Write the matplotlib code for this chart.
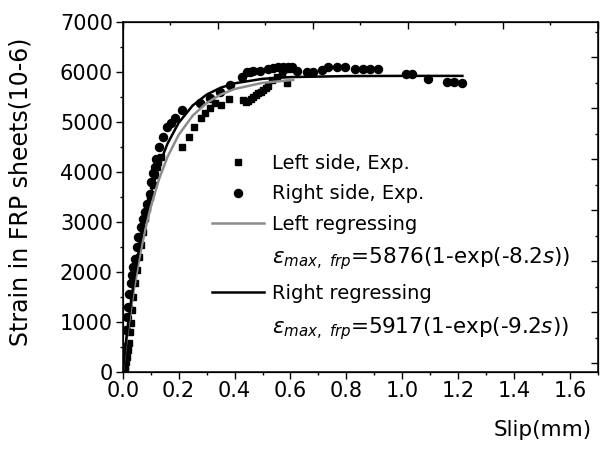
"""Strain in FRP sheets vs slip: left/right side measurements with exponential fits."""

import matplotlib

matplotlib.use("Agg")
import matplotlib.pyplot as plt
from matplotlib.lines import Line2D
from matplotlib.ticker import MultipleLocator

# left side, experiment (squares)
left_slip = [0.008, 0.012, 0.016, 0.020, 0.023, 0.026, 0.029, 0.035, 0.038, 0.044,
             0.050, 0.058, 0.065, 0.073, 0.080, 0.088, 0.098, 0.110, 0.116, 0.121,
             0.128, 0.136, 0.211, 0.238, 0.255, 0.279, 0.294, 0.312, 0.330, 0.350,
             0.381, 0.431, 0.440, 0.449, 0.458, 0.467, 0.476, 0.485, 0.494, 0.503,
             0.512, 0.521, 0.533, 0.551, 0.569, 0.575, 0.587, 0.595, 0.604]
left_strain = [75, 200, 300, 430, 570, 800, 970, 1230, 1500, 1770,
               2030, 2300, 2530, 2800, 3070, 3270, 3500, 3730, 3930, 4100,
               4200, 4300, 4500, 4700, 4890, 5070, 5170, 5270, 5370, 5330,
               5450, 5430, 5400, 5410, 5460, 5500, 5530, 5570, 5600, 5630,
               5670, 5710, 5830, 5900, 5970, 6030, 5770, 6050, 6100]

# right side, experiment (circles)
right_slip = [0.006, 0.009, 0.012, 0.016, 0.020, 0.024, 0.028, 0.033, 0.038, 0.043,
              0.050, 0.056, 0.064, 0.072, 0.080, 0.088, 0.096, 0.102, 0.108, 0.114,
              0.120, 0.131, 0.143, 0.160, 0.172, 0.187, 0.211, 0.276, 0.312, 0.348,
              0.384, 0.426, 0.443, 0.455, 0.467, 0.490, 0.520, 0.538, 0.556, 0.575,
              0.592, 0.604, 0.622, 0.658, 0.682, 0.712, 0.735, 0.768, 0.795, 0.831,
              0.859, 0.885, 0.912, 1.013, 1.033, 1.093, 1.159, 1.185, 1.213]
right_strain = [80, 500, 830, 1100, 1300, 1550, 1770, 1930, 2100, 2250,
                2500, 2700, 2900, 3050, 3200, 3350, 3550, 3800, 3970, 4100,
                4250, 4500, 4690, 4890, 4980, 5070, 5230, 5370, 5470, 5600,
                5730, 5900, 6000, 6000, 6020, 6020, 6050, 6080, 6100, 6100,
                6090, 6100, 6020, 6000, 6000, 6030, 6100, 6100, 6100, 6050,
                6050, 6050, 6050, 5950, 5950, 5850, 5800, 5790, 5770]

# regression curves, values
left_fit_slip = [0.0, 0.01, 0.02, 0.04, 0.06, 0.08, 0.10, 0.13, 0.16, 0.20,
                 0.25, 0.30, 0.35, 0.40, 0.50, 0.61]
left_fit_strain = [0, 462, 889, 1643, 2283, 2827, 3288, 3852, 4294, 4736,
                   5120, 5374, 5543, 5655, 5778, 5836]
right_fit_slip = [0.0, 0.01, 0.02, 0.04, 0.06, 0.08, 0.10, 0.13, 0.16, 0.20,
                  0.25, 0.30, 0.35, 0.40, 0.50, 0.60, 0.80, 1.00, 1.215]
right_fit_strain = [0, 520, 994, 1822, 2510, 3083, 3559, 4128, 4559, 4977,
                    5323, 5542, 5680, 5768, 5858, 5893, 5913, 5917, 5917]

left_label = r"$\varepsilon_{max,\ frp}$=5876(1-exp(-8.2$s$))"
right_label = r"$\varepsilon_{max,\ frp}$=5917(1-exp(-9.2$s$))"

plt.rcParams["font.family"] = "DejaVu Sans"
plt.rcParams["mathtext.fontset"] = "dejavusans"

fig = plt.figure(figsize=(6, 4.53), dpi=100)
ax = fig.add_axes([0.2045, 0.1795, 0.7922, 0.7725])

ax.plot(left_slip, left_strain, "s", color="black", markersize=4.8, linestyle="none")
ax.plot(right_slip, right_strain, "o", color="black", markersize=5.8, linestyle="none")
ax.plot(left_fit_slip, left_fit_strain, color="#8c8c8c", linewidth=1.8)
ax.plot(right_fit_slip, right_fit_strain, color="black", linewidth=1.8)

ax.set_xlim(0, 1.7)
ax.set_ylim(0, 7000)
ax.xaxis.set_major_locator(MultipleLocator(0.2))
ax.xaxis.set_minor_locator(MultipleLocator(0.1))
ax.yaxis.set_major_locator(MultipleLocator(1000))
ax.yaxis.set_minor_locator(MultipleLocator(500))
ax.xaxis.set_major_formatter(matplotlib.ticker.FormatStrFormatter("%.1f"))
ax.tick_params(which="major", direction="out", length=5, width=1, labelsize=15, pad=2)
ax.tick_params(which="minor", direction="out", length=2.5, width=1)
for sp in ax.spines.values():
    sp.set_linewidth(1.1)

# mirrored top/right axes with their own inward ticks, no labels
top = ax.twiny()
top.set_xlim(0, 5)
top.xaxis.set_major_locator(MultipleLocator(1))
top.xaxis.set_minor_locator(MultipleLocator(0.5))
top.tick_params(which="both", direction="in", labeltop=False, width=1)
top.tick_params(which="major", length=5)
top.tick_params(which="minor", length=2.5)
right = ax.twinx()
right.set_ylim(-0.165, 6.698)
right.yaxis.set_major_locator(MultipleLocator(1))
right.yaxis.set_minor_locator(MultipleLocator(0.5))
right.tick_params(which="both", direction="in", labelright=False, width=1)
right.tick_params(which="major", length=5)
right.tick_params(which="minor", length=2.5)

ax.set_xlabel("Slip(mm)", fontsize=15.5, ha="right")
ax.xaxis.set_label_coords(0.987, -0.167)
ax.set_ylabel("Strain in FRP sheets(10-6)", fontsize=17)
ax.yaxis.set_label_coords(-0.214, 0.513)
ax.yaxis.label.set_va("center")
ax.xaxis.label.set_va("center")

blank = Line2D([], [], linestyle="none", marker="")
handles = [
    Line2D([], [], marker="s", color="black", linestyle="none", markersize=4.8),
    Line2D([], [], marker="o", color="black", linestyle="none", markersize=5.8),
    Line2D([], [], color="#8c8c8c", linewidth=1.8),
    blank,
    Line2D([], [], color="black", linewidth=1.8),
    blank,
]
labels = ["Left side, Exp.", "Right side, Exp.", "Left regressing", left_label,
          "Right regressing", right_label]
leg = right.legend(handles, labels, loc="upper left", bbox_to_anchor=(0.187, 0.623),
                   frameon=False, fontsize=14, handlelength=2.7, handletextpad=0.4,
                   labelspacing=0.6, borderpad=0, borderaxespad=0)
# the formula lines are drawn a little larger in the original
for t in leg.get_texts()[3::2]:
    t.set_fontsize(15.5)

fig.savefig("out.png", dpi=100)
